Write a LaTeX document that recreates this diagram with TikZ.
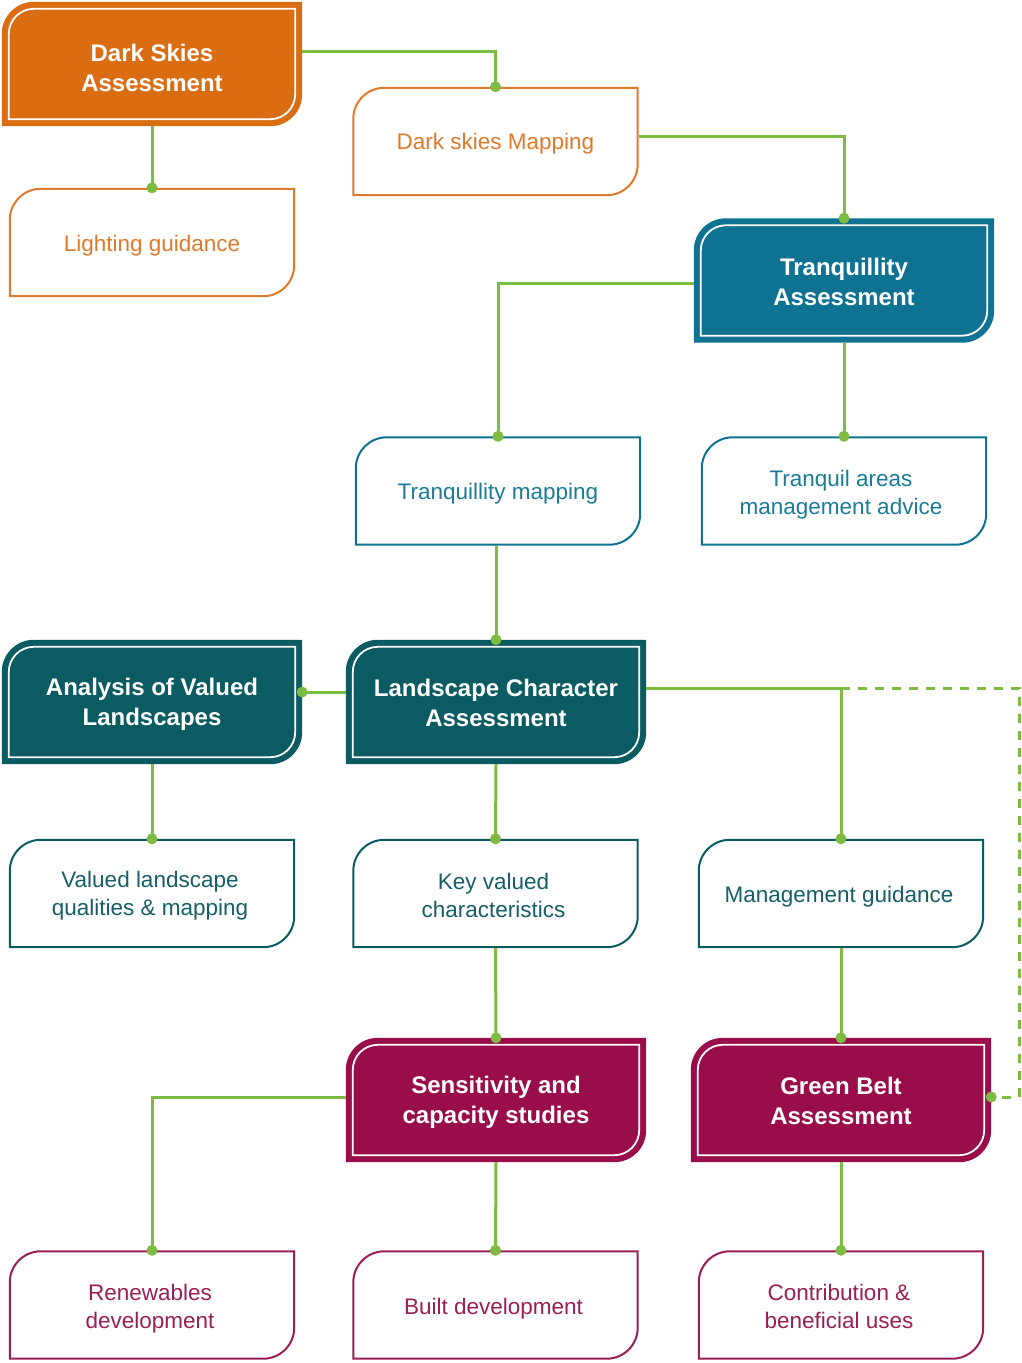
\documentclass[tikz,border=0pt]{standalone}
\usepackage{fontspec}
\setmainfont{Liberation Sans}
\pgfdeclarelayer{bg}
\pgfsetlayers{bg,main}
\definecolor{cOr}{HTML}{DA6C12}
\definecolor{cOrT}{HTML}{E07A2B}
\definecolor{cTe}{HTML}{0E7292}
\definecolor{cTeT}{HTML}{1C7C98}
\definecolor{cDk}{HTML}{0B5B63}
\definecolor{cDkT}{HTML}{175F66}
\definecolor{cCr}{HTML}{9A0D4B}
\definecolor{cCrT}{HTML}{9A1F55}
\definecolor{cGr}{HTML}{7DBB42}
\newcommand\shapepath[3]{([shift={(#2pt,#2pt)}]#1.south west) -- ([shift={(#2pt,-#3pt-#2pt)}]#1.north west) arc[start angle=180,end angle=90,radius=#3pt] -- ([shift={(-#2pt,-#2pt)}]#1.north east) -- ([shift={(-#2pt,#3pt+#2pt)}]#1.south east) arc[start angle=0,end angle=-90,radius=#3pt] -- cycle}
\newcommand\mainbox[2]{\begin{pgfonlayer}{bg}\fill[#2] \shapepath{#1}{0}{32}; \draw[white,line width=1.8pt] \shapepath{#1}{7}{25};\end{pgfonlayer}}
\newcommand\subbox[2]{\begin{pgfonlayer}{bg}\draw[#2,line width=2pt,fill=white] \shapepath{#1}{1}{31};\end{pgfonlayer}}
\newcommand\gdot[1]{\fill[cGr] (#1) circle (5.5pt);}
\begin{document}
\begin{tikzpicture}[x=1pt,y=1pt,
  mainnode/.style={minimum width=300pt, minimum height=124pt, inner sep=0pt},
  maintext/.style={inner sep=0pt, text=white, font=\bfseries\fontsize{24}{30}\selectfont, align=center},
  subnode/.style={minimum width=286pt, minimum height=109pt, inner sep=0pt},
  subtext/.style={inner sep=0pt, font=\fontsize{22.5}{28}\selectfont, align=center},
  conn/.style={draw=cGr, line width=3pt},
  dconn/.style={draw=cGr, line width=3pt, dash pattern=on 9pt off 8pt}]
\useasboundingbox (0,0) rectangle (1022,-1363);
% main boxes
\node[mainnode] (DSA) at (152,-64) {};
\node[mainnode] (TA) at (844,-280.5) {};
\node[mainnode] (AVL) at (152,-702) {};
\node[mainnode] (LCA) at (496,-702) {};
\node[mainnode] (SCS) at (496,-1100) {};
\node[mainnode] (GBA) at (841,-1100) {};
\mainbox{DSA}{cOr}
\mainbox{TA}{cTe}
\mainbox{AVL}{cDk}
\mainbox{LCA}{cDk}
\mainbox{SCS}{cCr}
\mainbox{GBA}{cCr}
\node[maintext] (DSAt) at ([yshift=-3.5pt]DSA.center) {Dark Skies\\Assessment};
\node[maintext] (TAt) at ([yshift=-1.5pt]TA.center) {Tranquillity\\Assessment};
\node[maintext] (AVLt) at ([yshift=-2pt]AVL.center) {Analysis of Valued\\Landscapes};
\node[maintext] (LCAt) at ([yshift=-0.5pt]LCA.center) {Landscape Character\\Assessment};
\node[maintext] (SCSt) at ([yshift=-2.5pt]SCS.center) {Sensitivity and\\capacity studies};
\node[maintext] (GBAt) at ([yshift=-1pt]GBA.center) {Green Belt\\Assessment};
% sub boxes
\node[subnode] (LG) at (152,-242.5) {};
\node[subnode] (DSM) at (495.5,-141.5) {};
\node[subnode] (TM) at (498,-491) {};
\node[subnode] (TAMA) at (844,-491) {};
\node[subnode] (VLQ) at (152,-893.5) {};
\node[subnode] (KVC) at (495.5,-893.5) {};
\node[subnode] (MG) at (841,-893.5) {};
\node[subnode] (RD) at (152,-1305) {};
\node[subnode] (BD) at (495.5,-1305) {};
\node[subnode] (CBU) at (841,-1305) {};
\subbox{LG}{cOrT}
\subbox{DSM}{cOrT}
\subbox{TM}{cTe}
\subbox{TAMA}{cTe}
\subbox{VLQ}{cDk}
\subbox{KVC}{cDk}
\subbox{MG}{cDk}
\subbox{RD}{cCrT}
\subbox{BD}{cCrT}
\subbox{CBU}{cCrT}
\node[subtext, text=cOrT] (LGt) at ([yshift=-3pt]LG.center) {Lighting guidance};
\node[subtext, text=cOrT] (DSMt) at ([yshift=-2pt]DSM.center) {Dark skies Mapping};
\node[subtext, text=cTeT] (TMt) at ([yshift=-3pt]TM.center) {Tranquillity mapping};
\node[subtext, text=cTeT] (TAMAt) at ([xshift=-3pt,yshift=-3.5pt]TAMA.center) {Tranquil areas\\management advice};
\node[subtext, text=cDkT] (VLQt) at ([xshift=-2pt,yshift=-2.5pt]VLQ.center) {Valued landscape\\qualities \& mapping};
\node[subtext, text=cDkT] (KVCt) at ([xshift=-2pt,yshift=-1.5pt]KVC.center) {Key valued\\characteristics};
\node[subtext, text=cDkT] (MGt) at ([xshift=-2pt,yshift=-3pt]MG.center) {Management guidance};
\node[subtext, text=cCrT] (RDt) at ([xshift=-2pt,yshift=-3.5pt]RD.center) {Renewables\\development};
\node[subtext, text=cCrT] (BDt) at ([xshift=-2pt,yshift=-3.5pt]BD.center) {Built development};
\node[subtext, text=cCrT] (CBUt) at ([xshift=-2pt,yshift=-1pt]CBU.center) {Contribution \&\\beneficial uses};
% connectors
\coordinate (dc) at (1019,-688);
\draw[conn] ([yshift=13pt]DSA.east) -| (DSM.north);
\draw[conn] (DSA.south) -- (LG.north);
\draw[conn] ([yshift=5.5pt]DSM.east) -| (TA.north);
\draw[conn] ([yshift=-2.5pt]TA.west) -| (TM.north);
\draw[conn] (TA.south) -- (TAMA.north);
\draw[conn] (LCA.north |- TM.south) -- (LCA.north);
\draw[conn] ([yshift=10pt]LCA.west) -- ([yshift=10pt]AVL.east);
\draw[conn] ([yshift=14pt]LCA.east) -| (MG.north);
\draw[dconn] (MG.north |- dc) -- (dc) |- ([yshift=3pt]GBA.east);
\draw[conn] (AVL.south) -- (VLQ.north);
\draw[conn] (LCA.south) -- (KVC.north);
\draw[conn] (KVC.south) -- (SCS.north);
\draw[conn] (MG.south) -- (GBA.north);
\draw[conn] ([yshift=3pt]SCS.west) -| (RD.north);
\draw[conn] (SCS.south) -- (BD.north);
\draw[conn] (GBA.south) -- (CBU.north);
% dots
\gdot{DSM.north}
\gdot{LG.north}
\gdot{TA.north}
\gdot{TM.north}
\gdot{TAMA.north}
\gdot{LCA.north}
\gdot{[yshift=10pt]AVL.east}
\gdot{MG.north}
\gdot{[yshift=3pt]GBA.east}
\gdot{VLQ.north}
\gdot{KVC.north}
\gdot{SCS.north}
\gdot{GBA.north}
\gdot{RD.north}
\gdot{BD.north}
\gdot{CBU.north}
\end{tikzpicture}
\end{document}
